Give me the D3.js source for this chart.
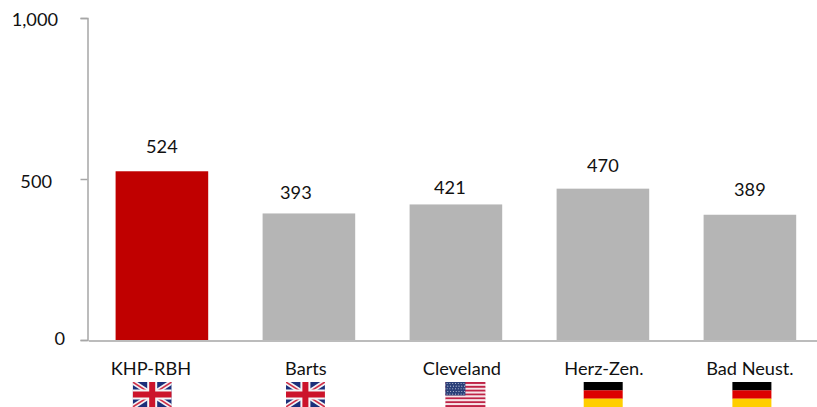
<!DOCTYPE html>
<html><head><meta charset="utf-8">
<script src="https://cdnjs.cloudflare.com/ajax/libs/d3/7.8.5/d3.min.js"></script>
<style>
html,body{margin:0;padding:0;background:#fff}
svg{display:block}
text{font-family:Lato,"Open Sans",sans-serif;fill:#111;font-size:18.2px}
</style></head><body>
<svg id="c" width="817" height="407" viewBox="0 0 817 407"></svg>
<script>
const categories = ["KHP-RBH","Barts","Cleveland","Herz-Zen.","Bad Neust."];
const values = [524,393,421,470,389];
const flags = ["uk","uk","us","de","de"];
const yTicks = [0,500,1000];

const labelShift = [-11,-3,6,1,0];
const flagShift = [-9.7,-3.5,9,0.3,2];
const valDx = [0,-13,-6,0,0];
const valDy = [-18,-14,-10.5,-16.5,-18.5];
const tickRight = {0:65,500:52,1000:58};
const tickMid = {0:338,500:180.5,1000:18.5};

const svg = d3.select("#c");
const x = d3.scaleBand().domain(categories).range([88.4,823.4]).paddingInner(0.37).paddingOuter(0.185);
const y = d3.scaleLinear().domain([0,1000]).range([340,18]);
const fmt = d3.format(",");
const axisColor = "#a6a6a6";

svg.selectAll("rect.bar").data(categories).join("rect").attr("class","bar")
  .attr("x",d=>x(d)).attr("width",x.bandwidth())
  .attr("y",(d,i)=>y(values[i])).attr("height",(d,i)=>y(0)-y(values[i]))
  .attr("fill",(d,i)=>i===0?"#c00000":"#b5b5b5");

svg.selectAll("text.val").data(categories).join("text").attr("class","val")
  .attr("x",(d,i)=>x(d)+x.bandwidth()/2+valDx[i]).attr("y",(d,i)=>y(values[i])+valDy[i])
  .attr("text-anchor","middle").text((d,i)=>values[i]);

const yAxis = d3.axisLeft(y).tickValues(yTicks).tickFormat(fmt).tickSize(7);
const gy = svg.append("g").attr("transform","translate(87.5,0)").call(yAxis);
gy.attr("font-family",null).attr("font-size",null);
gy.selectAll(".domain,line").attr("stroke",axisColor).attr("stroke-width",1.5);
gy.selectAll(".tick text").attr("dy",null)
  .attr("x",t=>tickRight[t]-87.5)
  .attr("y",t=>tickMid[t]+6.5-y(t));

const xAxis = d3.axisBottom(x).tickSize(0).tickPadding(0);
const gx = svg.append("g").attr("transform","translate(0,340.5)").call(xAxis);
gx.attr("font-family",null).attr("font-size",null);
gx.select(".domain").attr("stroke",axisColor).attr("stroke-width",1.5);
gx.selectAll("text").attr("y",null).attr("dy",null)
  .attr("transform",(d,i)=>`translate(${labelShift[i]},34)`);

const W=39,H=25;
function uk(g){
  const id="ukclip"+Math.random().toString(36).slice(2);
  g.append("clipPath").attr("id",id).append("rect").attr("width",W).attr("height",H);
  const c=g.append("g").attr("clip-path",`url(#${id})`);
  c.append("rect").attr("width",W).attr("height",H).attr("fill","#1b2f7a");
  [[0,0,W,H],[W,0,0,H]].forEach(l=>{
    c.append("line").attr("x1",l[0]).attr("y1",l[1]).attr("x2",l[2]).attr("y2",l[3]).attr("stroke","#f3f3f6").attr("stroke-width",5);
    c.append("line").attr("x1",l[0]).attr("y1",l[1]).attr("x2",l[2]).attr("y2",l[3]).attr("stroke","#cf3048").attr("stroke-width",1.6);
  });
  c.append("rect").attr("x",W/2-5).attr("width",10).attr("height",H).attr("fill","#f5f5f7");
  c.append("rect").attr("y",H/2-5).attr("width",W).attr("height",10).attr("fill","#f5f5f7");
  c.append("rect").attr("x",W/2-3).attr("width",6).attr("height",H).attr("fill","#cc142b");
  c.append("rect").attr("y",H/2-3).attr("width",W).attr("height",6).attr("fill","#cc142b");
}
function us(g){
  const s=H/13;
  d3.range(13).forEach(i=>g.append("rect").attr("y",i*s).attr("width",W+1).attr("height",s+.2).attr("fill",i%2?"#f6e4e8":"#be2346"));
  g.append("rect").attr("width",20).attr("height",7*s).attr("fill","#2a3f78");
  d3.range(5).forEach(r=>d3.range(7).forEach(k=>g.append("circle").attr("cx",1.7+k*2.8+(r%2?.7:0)).attr("cy",1.5+r*2.65).attr("r",.55).attr("fill","#c7cde0")));
}
function de(g){
  ["#000000","#dd0000","#ffce00"].forEach((c,i)=>g.append("rect").attr("y",i*H/3).attr("width",W).attr("height",H/3+.1).attr("fill",c));
}
const draw={uk,us,de};
categories.forEach((d,i)=>{
  const g=svg.append("g").attr("class","flag")
    .attr("transform",`translate(${x(d)+x.bandwidth()/2+flagShift[i]-W/2},382)`);
  draw[flags[i]](g);
});
</script>
</body></html>
